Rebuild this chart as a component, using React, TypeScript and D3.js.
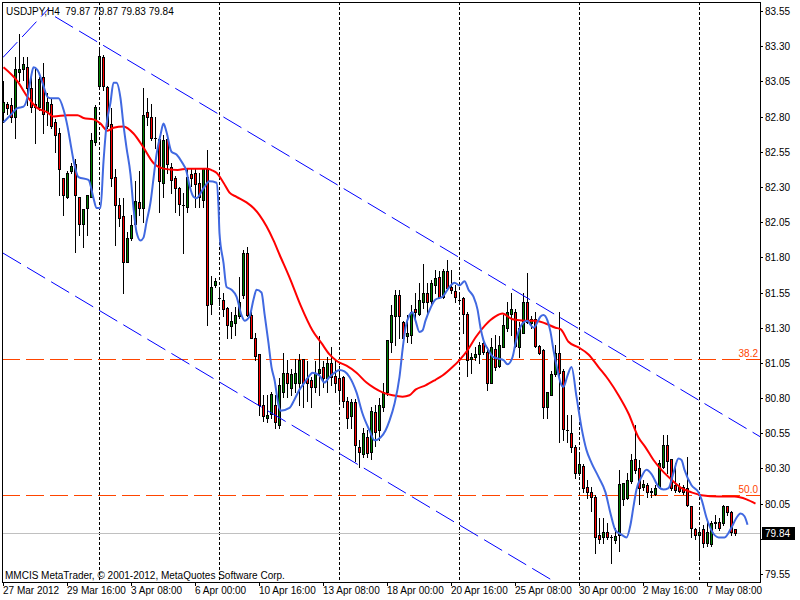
import * as d3 from 'd3';

// USDJPY H4, 27 Mar - 8 May 2012 (MetaTrader 4 screenshot)
const chartTitle = 'USDJPY,H4  79.87 79.87 79.83 79.84';
const copyright = 'MMCIS MetaTrader, © 2001-2012, MetaQuotes Software Corp.';

// [open, high, low, close] per 4h bar
const ohlc: [number, number, number, number][] = [
  [82.83, 83.05, 82.76, 82.90], [82.89, 82.90, 82.82, 82.86], [82.88, 82.93, 82.76, 82.80], [82.80, 83.22, 82.65, 83.14],
  [83.12, 83.39, 83.05, 83.14], [83.14, 83.22, 83.06, 83.17], [83.15, 83.22, 82.88, 83.00], [83.00, 83.11, 82.83, 82.87],
  [82.89, 83.14, 82.61, 82.87], [82.87, 83.08, 82.85, 83.07], [83.08, 83.18, 82.68, 82.82], [82.83, 82.97, 82.74, 82.90],
  [82.89, 82.93, 82.72, 82.73], [82.76, 82.78, 82.55, 82.67], [82.68, 82.72, 82.24, 82.43], [82.36, 82.36, 82.10, 82.24],
  [82.23, 82.41, 82.22, 82.40], [82.41, 82.47, 82.40, 82.45], [82.46, 82.50, 81.84, 82.24], [82.23, 82.23, 81.96, 82.04],
  [82.04, 82.14, 81.87, 82.14], [82.15, 82.24, 81.96, 82.24], [82.23, 82.68, 82.23, 82.63], [82.62, 82.88, 82.60, 82.87],
  [83.02, 83.27, 83.02, 83.23], [83.22, 83.24, 82.99, 83.02], [83.01, 83.02, 82.72, 82.73], [82.75, 82.86, 82.31, 82.36],
  [82.37, 82.43, 81.89, 82.17], [82.17, 82.22, 82.02, 82.08], [82.09, 82.22, 81.55, 81.77], [81.77, 81.98, 81.77, 81.94],
  [81.94, 82.10, 81.92, 82.03], [82.04, 82.34, 82.03, 82.20], [82.19, 82.41, 82.10, 82.15], [82.15, 83.00, 82.05, 82.81],
  [82.83, 82.93, 82.74, 82.80], [82.80, 82.89, 82.63, 82.65], [82.65, 82.80, 82.58, 82.65], [82.64, 82.65, 82.12, 82.34],
  [82.33, 82.67, 82.23, 82.63], [82.64, 82.67, 82.40, 82.46], [82.44, 82.47, 82.26, 82.35], [82.36, 82.38, 82.12, 82.29],
  [82.29, 82.30, 82.10, 82.18], [82.17, 82.26, 81.83, 82.17], [82.16, 82.43, 82.12, 82.37], [82.39, 82.43, 82.31, 82.36],
  [82.40, 82.43, 82.16, 82.32], [82.33, 82.40, 82.16, 82.23], [82.21, 82.43, 82.16, 82.43], [82.43, 82.56, 81.32, 81.46],
  [81.47, 81.67, 81.40, 81.59], [81.60, 81.65, 81.59, 81.63], [81.51, 81.57, 81.46, 81.51], [81.50, 81.55, 81.38, 81.43],
  [81.44, 81.45, 81.23, 81.32], [81.31, 81.41, 81.23, 81.35], [81.33, 81.45, 81.25, 81.39], [81.38, 81.66, 81.37, 81.48],
  [81.53, 81.85, 81.51, 81.83], [81.83, 81.87, 81.38, 81.39], [81.39, 81.41, 81.23, 81.23], [81.23, 81.26, 81.07, 81.10],
  [81.11, 81.11, 80.68, 80.75], [80.75, 80.82, 80.64, 80.67], [80.66, 80.82, 80.63, 80.68], [80.69, 80.84, 80.66, 80.83],
  [80.75, 80.82, 80.59, 80.63], [80.61, 80.94, 80.59, 80.89], [80.84, 81.12, 80.81, 80.98], [80.98, 81.07, 80.81, 80.91],
  [80.87, 81.01, 80.82, 80.97], [80.91, 81.08, 80.84, 80.98], [80.91, 81.11, 80.75, 81.07], [81.08, 81.08, 80.74, 80.91],
  [80.94, 81.06, 80.78, 80.91], [80.93, 80.95, 80.74, 80.88], [80.88, 81.06, 80.84, 80.98], [80.98, 81.24, 80.82, 81.01],
  [81.02, 81.06, 80.88, 80.94], [80.94, 81.09, 80.84, 81.05], [81.05, 81.16, 80.89, 80.95], [80.96, 81.08, 80.84, 80.91],
  [80.94, 81.03, 80.77, 80.86], [80.95, 80.96, 80.74, 80.78], [80.78, 80.81, 80.59, 80.66], [80.67, 80.79, 80.59, 80.77],
  [80.77, 80.79, 80.35, 80.47], [80.45, 80.50, 80.31, 80.42], [80.40, 80.59, 80.38, 80.55], [80.52, 80.57, 80.38, 80.41],
  [80.42, 80.74, 80.37, 80.71], [80.70, 80.75, 80.46, 80.56], [80.57, 80.80, 80.50, 80.75], [80.74, 80.91, 80.71, 80.84],
  [80.84, 81.21, 80.82, 81.21], [81.20, 81.46, 81.13, 81.39], [81.38, 81.57, 81.18, 81.53], [81.53, 81.57, 81.23, 81.38],
  [81.34, 81.35, 81.19, 81.23], [81.24, 81.39, 81.20, 81.26], [81.25, 81.46, 81.19, 81.41], [81.43, 81.55, 81.35, 81.41],
  [81.40, 81.62, 81.39, 81.50], [81.48, 81.75, 81.44, 81.55], [81.55, 81.62, 81.40, 81.48], [81.49, 81.64, 81.46, 81.62],
  [81.60, 81.71, 81.55, 81.65], [81.66, 81.70, 81.51, 81.52], [81.52, 81.72, 81.51, 81.70], [81.70, 81.78, 81.57, 81.58],
  [81.59, 81.71, 81.55, 81.57], [81.56, 81.60, 81.48, 81.52], [81.50, 81.53, 81.48, 81.50], [81.51, 81.52, 81.26, 81.40],
  [81.40, 81.41, 80.96, 81.07], [81.08, 81.12, 80.98, 81.09], [81.09, 81.16, 81.07, 81.11], [81.11, 81.20, 81.05, 81.18],
  [81.19, 81.23, 81.11, 81.13], [81.13, 81.16, 80.86, 80.91], [80.91, 81.23, 80.91, 81.16], [81.15, 81.25, 81.00, 81.02],
  [81.03, 81.24, 81.02, 81.18], [81.16, 81.39, 81.16, 81.32], [81.30, 81.48, 81.28, 81.41], [81.40, 81.55, 81.25, 81.43],
  [81.41, 81.43, 81.16, 81.17], [81.16, 81.34, 81.09, 81.30], [81.26, 81.55, 81.26, 81.48], [81.48, 81.69, 81.33, 81.34],
  [81.33, 81.38, 81.30, 81.36], [81.36, 81.41, 81.16, 81.17], [81.17, 81.18, 81.11, 81.12], [81.14, 81.15, 80.66, 80.74],
  [80.74, 80.84, 80.66, 80.84], [80.82, 80.99, 80.82, 80.97], [80.97, 81.18, 80.96, 81.12], [81.12, 81.41, 80.49, 80.98],
  [80.99, 81.01, 80.50, 80.58], [80.57, 80.68, 80.49, 80.57], [80.55, 80.68, 80.42, 80.45], [80.45, 80.47, 80.23, 80.27],
  [80.27, 80.40, 80.25, 80.33], [80.32, 80.33, 80.13, 80.16], [80.17, 80.22, 80.09, 80.13], [80.13, 80.17, 80.00, 80.10],
  [80.10, 80.11, 79.70, 79.81], [79.83, 79.95, 79.77, 79.80], [79.81, 79.95, 79.77, 79.85], [79.85, 79.91, 79.80, 79.81],
  [79.81, 79.83, 79.63, 79.81], [79.79, 79.88, 79.77, 79.82], [79.83, 80.29, 79.71, 80.19], [80.08, 80.20, 80.04, 80.20],
  [80.09, 80.27, 80.08, 80.22], [80.21, 80.40, 80.20, 80.36], [80.37, 80.61, 80.27, 80.29], [80.30, 80.36, 80.05, 80.16],
  [80.17, 80.22, 80.15, 80.19], [80.18, 80.20, 80.10, 80.13], [80.14, 80.16, 80.10, 80.13], [80.12, 80.18, 80.11, 80.16],
  [80.17, 80.36, 80.16, 80.34], [80.31, 80.54, 80.30, 80.47], [80.47, 80.54, 80.27, 80.35], [80.37, 80.37, 80.15, 80.16],
  [80.18, 80.34, 80.13, 80.15], [80.17, 80.20, 80.13, 80.14], [80.17, 80.18, 80.12, 80.13], [80.16, 80.38, 80.03, 80.04],
  [80.03, 80.03, 79.81, 79.88], [79.87, 79.88, 79.80, 79.83], [79.83, 79.88, 79.65, 79.85], [79.87, 79.90, 79.74, 79.77],
  [79.77, 79.93, 79.75, 79.85], [79.76, 79.93, 79.75, 79.91], [79.91, 79.97, 79.88, 79.92], [79.92, 79.95, 79.86, 79.88],
  [79.91, 80.04, 79.90, 80.03], [80.03, 80.03, 79.97, 79.99], [79.99, 80.00, 79.83, 79.85], [79.87, 79.87, 79.83, 79.84],
];

// red moving average, [bar, price] (shifted past the last bar)
const slowMA: [number, number][] = [
  [0, 83.15], [3.5, 83.05], [6, 82.94], [8.5, 82.86], [11, 82.83], [12.5, 82.80], [16, 82.81], [18.5, 82.81],
  [20, 82.79], [22.5, 82.78], [24.25, 82.75], [26, 82.70], [27.5, 82.72], [30, 82.73], [32.5, 82.68], [35, 82.58],
  [37.5, 82.47], [40, 82.43], [43.5, 82.42], [46, 82.43], [51, 82.43], [52, 82.42], [53.25, 82.40], [55, 82.33],
  [56.5, 82.26], [58.25, 82.23], [60.75, 82.19], [62.5, 82.15], [64, 82.10], [65.75, 82.02], [67.5, 81.92], [69, 81.82],
  [71.75, 81.64], [74.25, 81.46], [77.25, 81.28], [79.5, 81.19], [81.5, 81.11], [83.5, 81.06], [85.75, 81.03], [88.25, 80.98],
  [90.75, 80.91], [92.75, 80.87], [94.75, 80.84], [97.25, 80.82], [99.75, 80.81], [101.5, 80.82], [103, 80.86], [105.5, 80.89],
  [108, 80.93], [109.75, 80.96], [112.25, 81.02], [114, 81.07], [116, 81.14], [118, 81.23], [120.5, 81.32], [123, 81.38],
  [124.75, 81.40], [127.25, 81.36], [130.5, 81.35], [133, 81.35], [135.5, 81.33], [138, 81.30], [139.25, 81.29], [141.25, 81.20],
  [143.75, 81.16], [146.25, 81.11], [148.75, 81.02], [151.25, 80.93], [153.75, 80.82], [156.25, 80.69], [158.75, 80.52], [160.5, 80.45],
  [162.5, 80.36], [164.5, 80.29], [167, 80.22], [169.5, 80.16], [172, 80.13], [174.5, 80.11], [178.75, 80.10], [182.75, 80.10],
  [185.75, 80.08], [188, 80.05],
];

// blue moving average, [bar, price]
const fastMA: [number, number][] = [
  [0, 82.76], [1.75, 82.81], [3.5, 82.86], [5, 82.87], [6, 82.94], [6.75, 83.06], [7.5, 83.15], [8.5, 83.13],
  [9.75, 83.04], [11, 82.94], [11.75, 82.93], [13.75, 82.93], [15, 82.85], [16, 82.73], [16.75, 82.61], [17.5, 82.49],
  [18.75, 82.37], [21.25, 82.35], [22.5, 82.22], [23.25, 82.15], [24.25, 82.15], [25, 82.48], [25.75, 82.74], [26.75, 82.90],
  [27.5, 83.04], [28.25, 83.04], [29.25, 82.93], [30, 82.74], [30.75, 82.58], [31.75, 82.39], [32.5, 82.15], [33.25, 81.98],
  [34.25, 81.92], [35, 81.94], [35.75, 82.05], [36.75, 82.19], [37.5, 82.36], [38.25, 82.53], [39.25, 82.67], [40, 82.75],
  [40.75, 82.69], [42, 82.55], [43.25, 82.53], [44.5, 82.48], [45.75, 82.41], [46.5, 82.31], [47.5, 82.23], [48.25, 82.22],
  [50, 82.29], [51.5, 82.34], [53.25, 82.33], [53.75, 82.16], [54, 81.97], [55, 81.76], [55.75, 81.59], [57, 81.57],
  [58.25, 81.52], [59.5, 81.39], [60.25, 81.35], [61.5, 81.38], [62.5, 81.50], [63.25, 81.57], [64.5, 81.55], [65.25, 81.40],
  [66.25, 81.19], [67, 81.02], [67.75, 80.93], [68.75, 80.75], [69.25, 80.71], [71.5, 80.73], [72.75, 80.79], [74, 80.86],
  [75.25, 80.91], [76.5, 80.96], [77.25, 80.98], [79, 80.96], [80.25, 80.91], [81.5, 80.95], [83.25, 80.99], [84, 81.00],
  [85.25, 80.99], [86.5, 80.95], [88.25, 80.84], [89.75, 80.69], [91.5, 80.57], [92.75, 80.50], [94.25, 80.52], [95.5, 80.57],
  [96.5, 80.64], [97.75, 80.76], [99, 80.95], [99.75, 81.14], [100.5, 81.30], [101.5, 81.39], [102.25, 81.41], [103, 81.35],
  [104, 81.27], [104.75, 81.28], [105.5, 81.35], [106.75, 81.44], [108, 81.50], [109.75, 81.52], [111.5, 81.59], [112.75, 81.62],
  [114, 81.60], [115.25, 81.63], [116.25, 81.57], [117.5, 81.52], [118.5, 81.43], [119.25, 81.30], [120, 81.21], [121.25, 81.14],
  [122.5, 81.09], [123.75, 81.08], [125, 81.07], [126, 81.04], [127.25, 81.09], [128, 81.19], [128.75, 81.27], [129.75, 81.33],
  [131, 81.35], [131.75, 81.32], [132.5, 81.30], [133.5, 81.34], [134.25, 81.38], [135, 81.39], [136, 81.35], [136.75, 81.27],
  [137.5, 81.14], [138.5, 81.00], [139.25, 80.91], [140, 80.88], [141, 80.96], [142, 81.02], [143.25, 80.81], [144.5, 80.59],
  [145.75, 80.43], [147, 80.34], [148.75, 80.24], [150.5, 80.13], [151.75, 79.98], [153, 79.86], [154.5, 79.83], [155.75, 79.81],
  [156.75, 79.90], [157.5, 80.03], [158.25, 80.15], [159.5, 80.24], [160.75, 80.29], [162, 80.26], [163.75, 80.17], [165, 80.15],
  [166.25, 80.16], [167.5, 80.27], [168.75, 80.37], [169.5, 80.36], [170.25, 80.29], [172, 80.18], [173.75, 80.13], [174.5, 80.08],
  [175.75, 79.95], [177, 79.86], [178.75, 79.81], [180.25, 79.81], [182, 79.88], [183.25, 79.95], [184.25, 79.98], [185.25, 79.96],
  [186, 79.90],
];

// 79.80 sits under the bid box in the reference, only its tick shows
const priceTicks = [
  83.55, 83.3, 83.05, 82.8, 82.55, 82.3, 82.05, 81.8, 81.55, 81.3, 81.05, 80.8, 80.55, 80.3, 80.05, 79.8, 79.55,
];

const timeLabels = [
  '27 Mar 2012', '29 Mar 16:00', '3 Apr 08:00', '6 Apr 00:00', '10 Apr 16:00', '13 Apr 08:00',
  '18 Apr 00:00', '20 Apr 16:00', '25 Apr 08:00', '30 Apr 00:00', '2 May 16:00', '7 May 08:00',
];
const timeLabelBars = [0, 16, 32, 48, 64, 80, 96, 112, 128, 144, 160, 176];

// weekly period separators (Monday 00:00)
const separatorBars = [24, 54, 84, 114, 144, 174];

// drawn objects: [bar, price] anchors
const upperChannel: [number, number][] = [[13, 83.51], [114, 81.8]];
const lowerChannel: [number, number][] = [[0, 81.83], [101, 80.12]];
const risingLine: [number, number][] = [[0, 83.22], [11.5, 83.57]];

const fibLabels = ['38.2', '50.0'];
const fibPrices = [81.08, 80.11];

const bidPrice = 79.84;

const FONT = '"Liberation Sans", Arial, sans-serif';

export default function App() {
  const width = 800;
  const height = 600;
  const plot = { left: 2, top: 2, right: 760, bottom: 582 };
  const barStep = 4;

  const lastVisibleBar = (plot.right - plot.left - 1) / barStep;
  const x = d3.scaleLinear()
    .domain([0, lastVisibleBar])
    .range([plot.left + 1, plot.left + 1 + lastVisibleBar * barStep]);
  const y = d3.scaleLinear().domain([79.55, 83.55]).range([574, 11]);

  const maLine = d3.line<[number, number]>()
    .x(d => x(d[0]) + 0.5)
    .y(d => y(d[1]))
    .curve(d3.curveMonotoneX);

  // extend a two-point object to the right edge (MT4 ray)
  const ray = (pts: [number, number][]) => {
    const s = d3.scaleLinear().domain([pts[0][0], pts[1][0]]).range([pts[0][1], pts[1][1]]);
    return `M${x(pts[0][0])},${y(pts[0][1])}L${x(lastVisibleBar)},${y(s(lastVisibleBar))}`;
  };
  const segment = (pts: [number, number][]) =>
    `M${x(pts[0][0])},${y(pts[0][1])}L${x(pts[1][0])},${y(pts[1][1])}`;

  const py = (p: number) => Math.round(y(p)) + 0.5;
  const bidY = py(bidPrice);

  return (
    <svg
      width={width}
      height={height}
      style={{ position: 'absolute', left: 0, top: 0, background: '#fff' }}
      fontFamily={FONT}
      fontSize={10}
    >
      <defs>
        <clipPath id="plotArea">
          <rect x={plot.left} y={plot.top} width={plot.right - plot.left} height={plot.bottom - plot.top} />
        </clipPath>
      </defs>

      <g clipPath="url(#plotArea)">
        {/* period separators */}
        {separatorBars.map(b => (
          <line key={b} x1={x(b) + 0.5} x2={x(b) + 0.5} y1={plot.top} y2={plot.bottom}
            stroke="#000" strokeDasharray="3,2" shapeRendering="crispEdges" />
        ))}

        {/* fibo levels */}
        {fibPrices.map((p, i) => (
          <line key={fibLabels[i]} x1={plot.left} x2={plot.right} y1={py(p)} y2={py(p)}
            stroke="#ff4500" strokeDasharray="18,6" shapeRendering="crispEdges" />
        ))}

        {/* bid line */}
        <line x1={plot.left} x2={plot.right} y1={bidY} y2={bidY} stroke="#c0c0c0" shapeRendering="crispEdges" />

        {/* candles */}
        {ohlc.map(([o, h, l, c], i) => {
          const cx = Math.round(x(i));
          const top = Math.round(y(Math.max(o, c)));
          const bot = Math.round(y(Math.min(o, c)));
          const bull = c > o;
          return (
            <g key={i} shapeRendering="crispEdges">
              <line x1={cx + 0.5} x2={cx + 0.5} y1={Math.round(y(h))} y2={Math.round(y(l)) + 1} stroke="#000" />
              {bot - top < 1 ? (
                <line x1={cx - 1} x2={cx + 2} y1={top + 0.5} y2={top + 0.5} stroke="#000" />
              ) : (
                <rect x={cx - 0.5} y={top + 0.5} width={2} height={bot - top}
                  fill={bull ? '#008000' : '#ff0000'} stroke="#000" />
              )}
            </g>
          );
        })}

        {/* moving averages */}
        <path d={maLine(slowMA) ?? ''} fill="none" stroke="#ff0000" strokeWidth={2} />
        <path d={maLine(fastMA) ?? ''} fill="none" stroke="#4169e1" strokeWidth={2} />

        {/* channel */}
        <path d={ray(upperChannel)} fill="none" stroke="#0000ff" strokeDasharray="21,7" />
        <path d={ray(lowerChannel)} fill="none" stroke="#0000ff" strokeDasharray="21,7" />
        <path d={segment(risingLine)} fill="none" stroke="#0000ff" strokeDasharray="21,7" />
      </g>

      {/* fibo labels */}
      {fibPrices.map((p, i) => (
        <text key={fibLabels[i]} x={plot.right - 2} y={py(p) - 2.5} textAnchor="end" fill="#ff4500">
          {fibLabels[i]}
        </text>
      ))}

      {/* frame */}
      <rect x={plot.left + 0.5} y={plot.top + 0.5} width={plot.right - plot.left} height={plot.bottom - plot.top}
        fill="none" stroke="#000" shapeRendering="crispEdges" />

      {/* price axis */}
      {priceTicks.map(p => (
        <g key={p}>
          <line x1={plot.right} x2={plot.right + 3} y1={py(p)} y2={py(p)} stroke="#000" shapeRendering="crispEdges" />
          {Math.abs(py(p) - bidY) > 9 && (
            <text x={plot.right + 5} y={py(p) + 3.5} fill="#000">{p.toFixed(2)}</text>
          )}
        </g>
      ))}
      <rect x={plot.right + 2} y={bidY - 6.5} width={33} height={13} fill="#000" />
      <text x={plot.right + 5} y={bidY + 3.5} fill="#fff">{bidPrice.toFixed(2)}</text>

      {/* time axis */}
      {timeLabels.map((t, i) => (
        <g key={t}>
          <line x1={x(timeLabelBars[i]) + 0.5} x2={x(timeLabelBars[i]) + 0.5} y1={plot.bottom} y2={plot.bottom + 4}
            stroke="#000" shapeRendering="crispEdges" />
          <text x={x(timeLabelBars[i])} y={594} fill="#000">{t}</text>
        </g>
      ))}

      <text x={6} y={14.5} fill="#000" style={{ whiteSpace: 'pre' }}>{chartTitle}</text>
      <text x={5} y={579} fill="#000">{copyright}</text>
    </svg>
  );
}
